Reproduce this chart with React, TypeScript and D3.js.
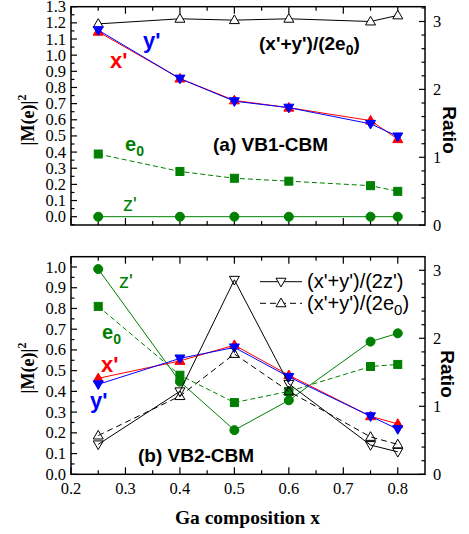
import React from "react";
import * as d3 from "d3";

const X = [0.25, 0.4, 0.5, 0.6, 0.75, 0.8];
// Panel (a) VB1-CBM
const xA = [1.145, 0.855, 0.72, 0.675, 0.595, 0.48];
const yA = [1.155, 0.855, 0.715, 0.675, 0.575, 0.497];
const eA = [0.388, 0.28, 0.238, 0.22, 0.192, 0.157];
const zA = [0, 0, 0, 0, 0, 0];
const rEA = [2.965, 3.04, 3.02, 3.04, 3.0, 3.09];
// Panel (b) VB2-CBM
const xB = [0.463, 0.547, 0.623, 0.478, 0.28, 0.243];
const yB = [0.434, 0.559, 0.612, 0.47, 0.28, 0.218];
const eB = [0.81, 0.478, 0.346, 0.4, 0.52, 0.53];
const zB = [0.99, 0.447, 0.213, 0.357, 0.64, 0.68];
const rZB = [0.44, 1.22, 2.86, 1.33, 0.43, 0.33];
const rEB = [0.57, 1.15, 1.77, 1.22, 0.55, 0.44];

const xTicks = [0.2, 0.3, 0.4, 0.5, 0.6, 0.7, 0.8];

const RED = "#ff0000";
const BLUE = "#0000ff";
const GREEN = "#008000";
const SERIF = "Liberation Serif";
const SANS = "Liberation Sans";

const X0 = 71, X1 = 425;
const xs = d3.scaleLinear().domain([0.2, 0.85]).range([X0, X1]);

function triUp(cx: number, cy: number, s: number) {
  const h = s * 0.866;
  return `M${cx},${cy - h * 0.6}L${cx + s / 2},${cy + h * 0.4}L${cx - s / 2},${cy + h * 0.4}Z`;
}
function triDown(cx: number, cy: number, s: number) {
  const h = s * 0.866;
  return `M${cx},${cy + h * 0.6}L${cx + s / 2},${cy - h * 0.4}L${cx - s / 2},${cy - h * 0.4}Z`;
}

function Series({ vals, ys, color, dash, marker, fill, size }: any) {
  const line = d3.line<number>().x((_, i) => xs(X[i])).y((v) => ys(v));
  return (
    <g>
      <path d={line(vals) || ""} fill="none" stroke={color} strokeWidth={1} strokeDasharray={dash || undefined} />
      {vals.map((v: number, i: number) => {
        const cx = xs(X[i]);
        const cy = ys(v);
        if (marker === "circ") return <circle key={i} cx={cx} cy={cy} r={size / 2} fill={fill} stroke={color} strokeWidth={1} />;
        if (marker === "sq") return <rect key={i} x={cx - size / 2} y={cy - size / 2} width={size} height={size} fill={fill} stroke={color} strokeWidth={1} />;
        if (marker === "up") return <path key={i} d={triUp(cx, cy, size)} fill={fill} stroke={color} strokeWidth={1} />;
        return <path key={i} d={triDown(cx, cy, size)} fill={fill} stroke={color} strokeWidth={1} />;
      })}
    </g>
  );
}

function Frame({ top, bot, yL, yR, lMajor, lMinor, rMajor, rMinor, lFmt, showX }: any) {
  const xMinor = d3.range(0.25, 0.85, 0.1);
  return (
    <g>
      <g stroke="#000" strokeWidth={1.2} fill="none">
        <rect x={X0} y={top} width={X1 - X0} height={bot - top} strokeWidth={1.5} />
        {xTicks.map((t) => (
          <g key={"x" + t}>
            <line x1={xs(t)} x2={xs(t)} y1={bot} y2={bot - 7} />
            <line x1={xs(t)} x2={xs(t)} y1={top} y2={top + 7} />
          </g>
        ))}
        {xMinor.map((t) => (
          <g key={"xm" + t}>
            <line x1={xs(t)} x2={xs(t)} y1={bot} y2={bot - 4} />
            <line x1={xs(t)} x2={xs(t)} y1={top} y2={top + 4} />
          </g>
        ))}
        {lMajor.map((t: number) => (
          <line key={"l" + t} x1={X0} x2={X0 + 6} y1={yL(t)} y2={yL(t)} />
        ))}
        {lMinor.map((t: number) => (
          <line key={"lm" + t} x1={X0} x2={X0 + 3.5} y1={yL(t)} y2={yL(t)} />
        ))}
        {rMajor.map((t: number) => (
          <line key={"r" + t} x1={X1} x2={X1 - 6} y1={yR(t)} y2={yR(t)} />
        ))}
        {rMinor.map((t: number) => (
          <line key={"rm" + t} x1={X1} x2={X1 - 3.5} y1={yR(t)} y2={yR(t)} />
        ))}
      </g>
      {lMajor.map((t: number) => (
        <text key={"lt" + t} x={X0 - 5} y={yL(t) + 5.5} textAnchor="end" fontFamily={SERIF} fontSize={16.5} fill="#000">{lFmt(t)}</text>
      ))}
      {rMajor.map((t: number) => (
        <text key={"rt" + t} x={X1 + 8} y={yR(t) + 5.5} textAnchor="start" fontFamily={SERIF} fontSize={16.5} fill="#000">{t}</text>
      ))}
      {showX && xTicks.map((t) => (
        <text key={"xt" + t} x={xs(t)} y={bot + 19.5} textAnchor="middle" fontFamily={SERIF} fontSize={16.5} fill="#000">{t.toFixed(1)}</text>
      ))}
    </g>
  );
}

export default function App() {
  const aTop = 6.7, aBot = 225;
  const yLa = d3.scaleLinear().domain([0, 1.3]).range([216.7, aTop]);
  const yRa = d3.scaleLinear().domain([0, 3]).range([225.2, 21.5]);
  const bTop = 256.7, bBot = 474.3;
  const yLb = d3.scaleLinear().domain([0, 1.0]).range([bBot, 267]);
  const yRb = d3.scaleLinear().domain([0, 3]).range([bBot, 270.3]);

  const fmt = (t: number) => t.toFixed(1);
  const aMajor = d3.range(0, 14).map((i) => i / 10);
  const aMinor = d3.range(-1, 13).map((i) => i / 10 + 0.05);
  const bMajor = d3.range(0, 11).map((i) => i / 10);
  const bMinor = d3.range(0, 10).map((i) => i / 10 + 0.05);
  const rMajor = [0, 1, 2, 3];
  const rMinorA = d3.range(1, 17).map((i) => i * 0.2).filter((v) => Math.abs(v - Math.round(v)) > 0.01 && v < 3.21);
  const rMinorB = d3.range(1, 17).map((i) => i * 0.2).filter((v) => Math.abs(v - Math.round(v)) > 0.01 && v < 3.2);

  return (
    <svg width={469} height={534} style={{ position: "absolute", left: 0, top: 0 }}>
      <rect width={469} height={534} fill="#fff" />
      {/* Panel a */}
      <Frame top={aTop} bot={aBot} yL={yLa} yR={yRa} lMajor={aMajor} lMinor={aMinor} rMajor={rMajor} rMinor={rMinorA} lFmt={fmt} showX={false} />
      <Series vals={zA} ys={yLa} color={GREEN} marker="circ" fill={GREEN} size={9} />
      <Series vals={eA} ys={yLa} color={GREEN} dash="5,3" marker="sq" fill={GREEN} size={8} />
      <Series vals={rEA} ys={yRa} color="#000" marker="up" fill="#fff" size={10} />
      <Series vals={xA} ys={yLa} color={RED} marker="up" fill={RED} size={10} />
      <Series vals={yA} ys={yLa} color={BLUE} marker="down" fill={BLUE} size={10} />
      <text x={143} y={48} fontFamily={SANS} fontWeight="bold" fontSize={22} fill={BLUE}>y'</text>
      <text x={110} y={68} fontFamily={SANS} fontWeight="bold" fontSize={22} fill={RED}>x'</text>
      <text x={125} y={150.5} fontFamily={SANS} fontWeight="bold" fontSize={20} fill={GREEN}>e<tspan fontSize={14} dy={5}>0</tspan></text>
      <text x={123} y={211} fontFamily={SANS} fontSize={20} fill={GREEN}>z'</text>
      <text x={213} y={151} fontFamily={SANS} fontWeight="bold" fontSize={19} fill="#000">(a) VB1-CBM</text>
      <text x={259} y={50} fontFamily={SANS} fontWeight="bold" fontSize={19} fill="#000">(x'+y')/(2e<tspan fontSize={14} dy={5}>0</tspan><tspan dy={-5}>)</tspan></text>

      {/* Panel b */}
      <Frame top={bTop} bot={bBot} yL={yLb} yR={yRb} lMajor={bMajor} lMinor={bMinor} rMajor={rMajor} rMinor={rMinorB} lFmt={fmt} showX={true} />
      <Series vals={zB} ys={yLb} color={GREEN} marker="circ" fill={GREEN} size={9} />
      <Series vals={eB} ys={yLb} color={GREEN} dash="5,3" marker="sq" fill={GREEN} size={8} />
      <Series vals={xB} ys={yLb} color={RED} marker="up" fill={RED} size={10} />
      <Series vals={yB} ys={yLb} color={BLUE} marker="down" fill={BLUE} size={10} />
      <Series vals={rEB} ys={yRb} color="#000" dash="6,4" marker="up" fill="none" size={10} />
      <Series vals={rZB} ys={yRb} color="#000" marker="down" fill="none" size={10} />
      <text x={119} y={288} fontFamily={SANS} fontSize={20} fill={GREEN}>z'</text>
      <text x={102} y={339} fontFamily={SANS} fontWeight="bold" fontSize={20} fill={GREEN}>e<tspan fontSize={14} dy={5}>0</tspan></text>
      <text x={101} y={372} fontFamily={SANS} fontWeight="bold" fontSize={22} fill={RED}>x'</text>
      <text x={90} y={408} fontFamily={SANS} fontWeight="bold" fontSize={22} fill={BLUE}>y'</text>
      <text x={138} y={462} fontFamily={SANS} fontWeight="bold" fontSize={19} fill="#000">(b) VB2-CBM</text>

      {/* legend */}
      <line x1={260} x2={302} y1={281.7} y2={281.7} stroke="#000" strokeWidth={1} />
      <path d={triDown(281, 281.7, 10)} fill="#fff" stroke="#000" strokeWidth={1} />
      <text x={307} y={288} fontFamily={SANS} fontSize={20} fill="#000">(x'+y')/(2z')</text>
      <line x1={260} x2={302} y1={303.3} y2={303.3} stroke="#000" strokeWidth={1} strokeDasharray="6,4" />
      <path d={triUp(281, 303.3, 10)} fill="#fff" stroke="#000" strokeWidth={1} />
      <text x={307} y={309.5} fontFamily={SANS} fontSize={20} fill="#000">(x'+y')/(2e<tspan fontSize={15} dy={5}>0</tspan><tspan dy={-5}>)</tspan></text>

      {/* axis titles */}
      <text transform="translate(34,120) rotate(-90)" textAnchor="middle" fontFamily={SERIF} fontWeight="bold" fontSize={18}>|M(e)|<tspan fontSize={12} dy={-8}>2</tspan></text>
      <text transform="translate(34,368) rotate(-90)" textAnchor="middle" fontFamily={SERIF} fontWeight="bold" fontSize={18}>|M(e)|<tspan fontSize={12} dy={-8}>2</tspan></text>
      <text x={247.5} y={524} textAnchor="middle" fontFamily={SERIF} fontWeight="bold" fontSize={19.5}>Ga composition x</text>
      <text transform="translate(443,130) rotate(90)" textAnchor="middle" fontFamily={SANS} fontWeight="bold" fontSize={19}>Ratio</text>
      <text transform="translate(441,374) rotate(90)" textAnchor="middle" fontFamily={SANS} fontWeight="bold" fontSize={19}>Ratio</text>
    </svg>
  );
}
